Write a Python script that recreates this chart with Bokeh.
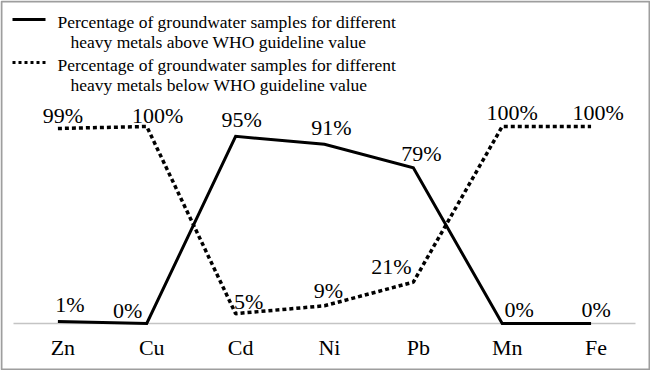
from bokeh.plotting import figure
from bokeh.models import Range1d, ColumnDataSource
from bokeh.embed import file_html
from bokeh.resources import INLINE
from bokeh.core.properties import value

# ---- data ----
metals = ["Zn", "Cu", "Cd", "Ni", "Pb", "Mn", "Fe"]
above_who = [1, 0, 95, 91, 79, 0, 0]
below_who = [99, 100, 5, 9, 21, 100, 100]
above_text = [f"{v}%" for v in above_who]
below_text = [f"{v}%" for v in below_who]
legend_above = ["Percentage of groundwater samples for different",
                "heavy metals above WHO guideline value"]
legend_below = ["Percentage of groundwater samples for different",
                "heavy metals below WHO guideline value"]

# ---- label offsets (style, pixels) ----
above_dx = [12, -19, 6, 7, 8, 17, 5]
above_dy = [-17, -13, -17, -17, -14, -14, -14]
below_dx = [5, 11, 13, 4, -22, 10, 7]
below_dy = [-13, -11, -12, -15, -16, -14, -14]

# ---- layout constants (pixels) ----
W, H = 650, 370
FIRST_PX, STEP_PX = 57.4, 88.86      # first category centre, category width
ZERO_PX, PX_PER_UNIT = 323, 1.97     # baseline position, px per percent
FONT = "Liberation Serif"

xpos = [i + 0.5 for i in range(len(metals))]   # category centres
x0 = 0.5 - FIRST_PX / STEP_PX
y0 = -(H - ZERO_PX) / PX_PER_UNIT

p = figure(width=W, height=H,
           x_range=Range1d(x0, x0 + W / STEP_PX),
           y_range=Range1d(y0, y0 + H / PX_PER_UNIT),
           output_backend="svg", toolbar_location=None,
           x_axis_location=None, y_axis_location=None,
           min_border=0)
p.extra_x_ranges = {"px": Range1d(0, W)}
p.extra_y_ranges = {"py": Range1d(H, 0)}
p.grid.visible = False
p.outline_line_color = None

# outer border and baseline (decoration, in pixels)
p.quad(left=[1], right=[W - 1], top=[1], bottom=[H - 1], x_range_name="px", y_range_name="py",
       fill_color=None, line_color="#9e9e9e", line_width=2)
p.line([13, 635], [ZERO_PX, ZERO_PX], x_range_name="px", y_range_name="py",
       line_color="#c4c4c4", line_width=1.5)

src_a = ColumnDataSource(dict(x=xpos, y=above_who, t=above_text, dx=above_dx, dy=above_dy))
src_b = ColumnDataSource(dict(x=xpos, y=below_who, t=below_text, dx=below_dx, dy=below_dy))

p.line("x", "y", source=src_a, line_color="black", line_width=3, line_join="miter")
p.line("x", "y", source=src_b, line_color="black", line_width=3.5, line_dash="4 3")

for src in (src_a, src_b):
    p.text("x", "y", text="t", x_offset="dx", y_offset="dy", source=src,
           text_font=value(FONT), text_font_size="22px", text_color="black",
           text_align="center", text_baseline="middle")

# category labels below the baseline
p.text(xpos, [0] * len(metals), text=metals, x_offset=5, y_offset=24,
       text_font=value(FONT), text_font_size="22px", text_color="black",
       text_align="center", text_baseline="middle")

# ---- legend (manual, in pixels) ----
p.line([12, 45], [19, 19], x_range_name="px", y_range_name="py",
       line_color="black", line_width=3)
p.line([12, 45], [62, 62], x_range_name="px", y_range_name="py",
       line_color="black", line_width=3, line_dash="3 3")
leg_x, leg_y, leg_t = [], [], []
for lines, base in ((legend_above, 21), (legend_below, 64)):
    for i, txt in enumerate(lines):
        leg_x.append(57 if i == 0 else 70)
        leg_y.append(base + 20 * i)
        leg_t.append(txt)
p.text(leg_x, leg_y, text=leg_t, x_range_name="px", y_range_name="py",
       text_font=value(FONT), text_font_size="17.5px", text_color="black",
       text_align="left", text_baseline="alphabetic")

open("out.html", "w").write(file_html(p, INLINE))
